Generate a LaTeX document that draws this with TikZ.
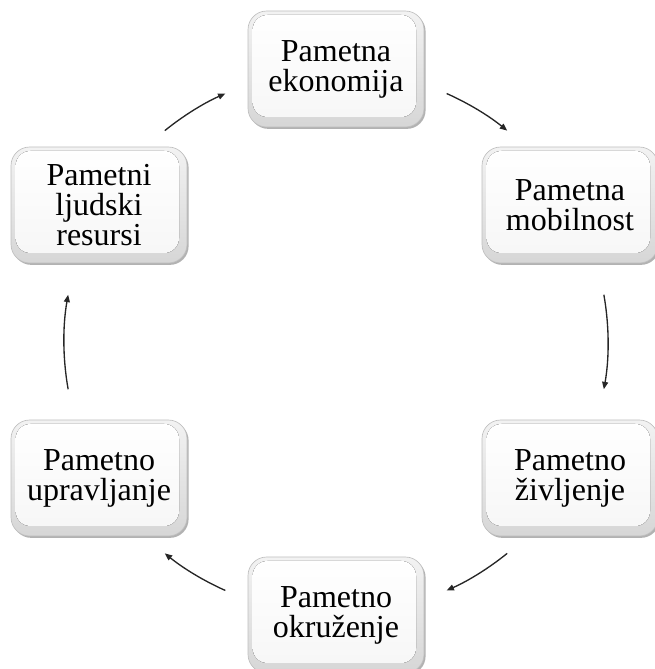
\documentclass[tikz,border=0pt]{standalone}
\usepackage{fontspec}
\setmainfont{Liberation Serif}
\usetikzlibrary{shadows,arrows.meta,calc}
\tikzset{
  box/.style={draw=gray!50, line width=0.5pt, rounded corners=14pt,
    minimum width=132pt, minimum height=87pt, inner sep=0pt, align=center,
    font=\fontsize{24}{22.5}\selectfont,
    top color=gray!10, bottom color=gray!32,
    drop shadow={shadow xshift=1.2pt, shadow yshift=-1.4pt, opacity=0.3, fill=black},
    path picture={
      \fill[top color=white, bottom color=gray!7, rounded corners=11pt]
        ([xshift=3.5pt,yshift=-3pt]path picture bounding box.north west)
        rectangle ([xshift=-6pt,yshift=7.5pt]path picture bounding box.south east);
    }},
  arr/.style={draw=black!85, line width=1pt, -{Triangle[length=5.5pt,width=4.5pt]}}
}
\begin{document}
\begin{tikzpicture}[x=0.75pt,y=0.75pt]
\useasboundingbox (0,0) rectangle (655,669);
\node[box] (top) at (336,600) {Pametna\\ekonomija};
\node[box] (rup) at (570,464) {Pametna\\mobilnost};
\node[box] (rlo) at (570,191) {Pametno\\življenje};
\node[box] (bot) at (336,54) {Pametno\\okruženje};
\node[box] (llo) at (99,191) {Pametno\\upravljanje};
\node[box] (lup) at (99,464) {Pametni\\ljudski\\resursi};
\coordinate (ctr) at ($(top.center)!0.5!(bot.center)$);
\draw[arr] ($(ctr)+(66:272)$) arc[start angle=66, end angle=51, radius=272];
\draw[arr] ($(ctr)+(10:272)$) arc[start angle=10, end angle=-10, radius=272];
\draw[arr] ($(ctr)+(-51:272)$) arc[start angle=-51, end angle=-66, radius=272];
\draw[arr] ($(ctr)+(-114:272)$) arc[start angle=-114, end angle=-129, radius=272];
\draw[arr] ($(ctr)+(-170:272)$) arc[start angle=-170, end angle=-190, radius=272];
\draw[arr] ($(ctr)+(129:272)$) arc[start angle=129, end angle=114, radius=272];
\end{tikzpicture}
\end{document}
